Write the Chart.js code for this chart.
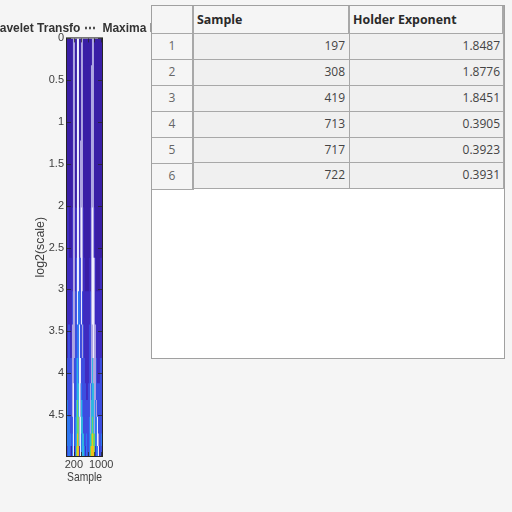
<!DOCTYPE html>
<html>
<head>
<meta charset="utf-8">
<script src="https://cdn.jsdelivr.net/npm/chart.js@4/dist/chart.umd.min.js"></script>
<style>
  html, body { margin: 0; padding: 0; background: #f5f5f5; overflow: hidden; }
  #wrap { position: relative; width: 512px; height: 512px; overflow: hidden; }
  /* canvas starts off the page so the long title is cut by the page edge and the table */
  #chart { position: absolute; left: -100px; top: 0; }
  #table { position: absolute; left: 151px; top: 5px; width: 352px; height: 352px; background: #fff; border: 1px solid #a0a0a0; }
  .cell { position: absolute; box-sizing: border-box; font: 12px "Open Sans", "Noto Sans", sans-serif; color: #333;
          border-bottom: 1px solid #a8a8a8; border-right: 1px solid #a8a8a8; line-height: 24px; white-space: nowrap; }
  .head { background: #f5f5f5; font-size: 12.4px; line-height: 28px; font-weight: bold; padding-left: 3px; color: #2a2a2a; border-right-width: 2px; }
  .rowh { background: #f5f5f5; text-align: center; color: #666; border-right-width: 2px; }
  .val { background: #f0f0f0; text-align: right; padding-right: 3px; color: #444; }
  .val.mid { padding-right: 4px; }
</style>
</head>
<body>
<div id="wrap">
  <canvas id="chart" width="370" height="512" style="width:370px;height:512px"></canvas>
  <div id="table"></div>
</div>
<script>
// table contents
const columnNames = ["", "Sample", "Holder Exponent"];
const rowNames = ["1", "2", "3", "4", "5", "6"];
const samples = [197, 308, 419, 713, 717, 722];
const holder = ["1.8487", "1.8776", "1.8451", "0.3905", "0.3923", "0.3931"];

// wavelet picture: sample of each column, scale edges of each band
const sampleCols = [15,44,73,103,132,161,190,220,249,278,307,337,366,395,424,454,483,512,541,571,600,629,658,688,717,746,775,805,834,863,892,922,951,980,1009];
const scaleEdges = [0, 0.3, 1.2, 2, 2.6, 3, 3.4, 3.8, 4.1, 4.3, 4.5, 4.7, 4.85, 4.99];

// colour level per column, one list per band
const band1  = [0,0,0,0,0,0,7,7,0,0,8,8,0,0,7,7,0,0,0,0,0,0,0,0,0,7,7,0,0,0,0,0,0,0,0];
const band2  = [0,0,0,0,0,0,7,7,0,0,8,8,0,0,7,7,0,0,0,0,0,0,0,0,7,7,7,0,0,0,0,0,0,0,0];
const band3  = [0,0,0,0,0,0,7,7,0,0,8,8,0,7,7,7,0,0,0,0,0,0,0,0,7,7,7,0,0,0,0,0,0,0,0];
const band4  = [1,1,0,0,0,1,7,7,1,1,8,8,1,7,8,7,1,0,0,0,0,0,0,1,7,8,7,1,0,0,0,0,0,0,0];
const band5  = [1,1,1,1,1,1,7,7,1,2,8,8,2,2,8,7,1,1,0,0,0,0,1,1,7,8,8,7,1,0,0,0,0,1,1];
const band6  = [1,1,1,1,1,2,7,7,2,2,8,3,3,2,8,2,1,1,1,1,1,1,1,2,7,8,8,7,1,1,1,1,1,1,1];
const band7  = [1,2,2,1,1,7,7,7,2,2,3,3,8,2,2,7,2,1,1,1,1,1,2,2,7,7,8,7,7,1,1,1,1,1,1];
const band8  = [2,2,2,2,2,7,7,2,2,3,4,3,8,8,2,2,2,2,1,1,1,1,2,2,7,4,7,7,7,2,1,1,1,2,2];
const band9  = [2,2,2,2,2,7,8,2,2,3,4,4,8,7,3,2,2,2,2,1,1,2,2,7,3,4,4,7,7,2,2,2,2,2,2];
const band10 = [3,2,2,2,2,7,8,2,2,4,5,4,8,7,4,3,2,2,2,2,2,2,2,7,4,4,4,7,3,7,2,2,2,2,2];
const band11 = [3,3,3,2,2,2,8,2,3,4,5,5,7,8,4,4,2,2,2,2,2,2,3,7,4,5,4,7,3,3,8,2,2,2,2];
const band12 = [3,3,3,3,2,3,8,2,3,4,6,5,7,8,3,4,4,2,2,3,2,2,3,4,5,6,5,5,3,3,8,7,2,2,3];
const band13 = [2,3,3,2,0,3,8,0,3,5,6,6,1,8,3,4,4,3,1,3,2,2,3,5,6,6,6,5,1,3,3,8,1,2,2];
const bands = [band1, band2, band3, band4, band5, band6, band7, band8, band9, band10, band11, band12, band13];
const levelColors = ["#3a1fa6", "#3f2cc0", "#3d4ee0", "#2e78f2", "#2fb8e0", "#70d860", "#f2c018", "#aea6e2", "#f0f0ff"];

const yTicksShown = [0, 0.5, 1, 1.5, 2, 2.5, 3, 3.5, 4, 4.5];
const xTicksShown = [200, 1000];
const xTickMarks = [200, 400, 600, 800, 1000];

const tickMarks = {
  id: "tickMarks",
  afterDatasetsDraw(chart) {
    const { ctx, chartArea: a, scales } = chart;
    ctx.save();
    ctx.strokeStyle = "#262626";
    ctx.globalAlpha = 0.75;
    ctx.lineWidth = 1;
    ctx.beginPath();
    yTicksShown.forEach((v) => {
      const y = Math.round(scales.y.getPixelForValue(v)) + 0.5;
      ctx.moveTo(a.left, y); ctx.lineTo(a.left + 4, y);
      ctx.moveTo(a.right, y); ctx.lineTo(a.right - 4, y);
    });
    xTickMarks.forEach((v) => {
      const x = Math.round(scales.x.getPixelForValue(v)) + 0.5;
      ctx.moveTo(x, a.top); ctx.lineTo(x, a.top + 4);
      ctx.moveTo(x, a.bottom); ctx.lineTo(x, a.bottom - 4);
    });
    ctx.stroke();
    ctx.globalAlpha = 1;
    ctx.strokeRect(a.left - 0.5, a.top - 0.5, a.right - a.left + 1, a.bottom - a.top + 1);
    ctx.restore();
  },
};

const axisFont = { family: "'Liberation Sans', Arial, sans-serif", size: 11 };
const axisTitleFont = { family: "'Liberation Sans', Arial, sans-serif", size: 12.4 };

new Chart(document.getElementById("chart"), {
  type: "bar",
  data: {
    datasets: bands.map((levels, b) => ({
      // a small overlap hides the seam between two bands
      data: levels.map((lv, i) => ({ x: sampleCols[i], y: [scaleEdges[b], scaleEdges[b + 1] + 0.02] })),
      backgroundColor: levels.map((lv) => levelColors[lv]),
      borderWidth: 0,
      grouped: false,
      barPercentage: 1.1,
      categoryPercentage: 1,
    })),
  },
  plugins: [tickMarks],
  options: {
    responsive: false,
    animation: false,
    devicePixelRatio: 1,
    layout: { padding: { bottom: 27 } },
    plugins: {
      legend: { display: false },
      tooltip: { enabled: false },
      title: {
        display: true,
        text: "Wavelet Transfo \u22EF  Maxima Lines",
        color: "#333",
        font: { family: "'Liberation Sans', Arial, sans-serif", size: 12, weight: "bold" },
        padding: { top: 21, bottom: 3 },
      },
    },
    scales: {
      x: {
        type: "linear",
        min: 0,
        max: 1024,
        offset: false,
        grid: { display: false, drawTicks: false },
        border: { display: false },
        afterFit: (s) => { s.height = 29; },
        afterBuildTicks: (s) => { s.ticks = xTicksShown.map((v) => ({ value: v })); },
        ticks: {
          color: "#404040",
          maxRotation: 0,
          autoSkip: false,
          padding: 2,
          font: axisFont,
          callback: (v) => String(v),
        },
        title: { display: true, text: "Sample", color: "#404040", padding: 0, font: axisTitleFont },
      },
      y: {
        type: "linear",
        reverse: true,
        min: 0,
        max: 4.99,
        grid: { display: false, drawTicks: false },
        border: { display: false },
        afterFit: (s) => { s.width = 167; },
        afterBuildTicks: (s) => { s.ticks = yTicksShown.map((v) => ({ value: v })); },
        ticks: {
          color: "#404040",
          padding: 3,
          autoSkip: false,
          font: axisFont,
          callback: (v) => String(v),
        },
        title: { display: true, text: "log2(scale)", color: "#404040", padding: { top: 133, bottom: 0 }, font: axisTitleFont },
      },
      // empty axis that only keeps the plot narrow on the right
      yRight: {
        type: "linear",
        position: "right",
        min: 0,
        max: 4.99,
        grid: { display: false, drawTicks: false },
        border: { display: false },
        ticks: { display: false },
        afterFit: (s) => { s.width = 168; },
      },
    },
  },
});

// table, built as real text
const tableEl = document.getElementById("table");
const colX = [0, 42, 198];
const colW = [42, 156, 154];
const rowhTop = [28, 54, 80, 106, 132, 158];
const rowhH = [26, 26, 26, 26, 26, 26];
const valTop = [28, 54, 80, 106, 132, 157];
const valH = [26, 26, 26, 26, 25, 26];

function addCell(cls, text, left, top, w, h) {
  const d = document.createElement("div");
  d.className = "cell " + cls;
  d.textContent = text;
  d.style.left = left + "px";
  d.style.top = top + "px";
  d.style.width = w + "px";
  d.style.height = h + "px";
  tableEl.appendChild(d);
}
columnNames.forEach((name, c) => addCell("head", name, colX[c], 0, colW[c], 28));
rowNames.forEach((name, r) => {
  addCell("val mid", samples[r], colX[1], valTop[r], colW[1], valH[r]);
  addCell("val", holder[r], colX[2], valTop[r], colW[2], valH[r]);
  addCell("rowh", name, colX[0], rowhTop[r], colW[0], rowhH[r]);
});
</script>
</body>
</html>
